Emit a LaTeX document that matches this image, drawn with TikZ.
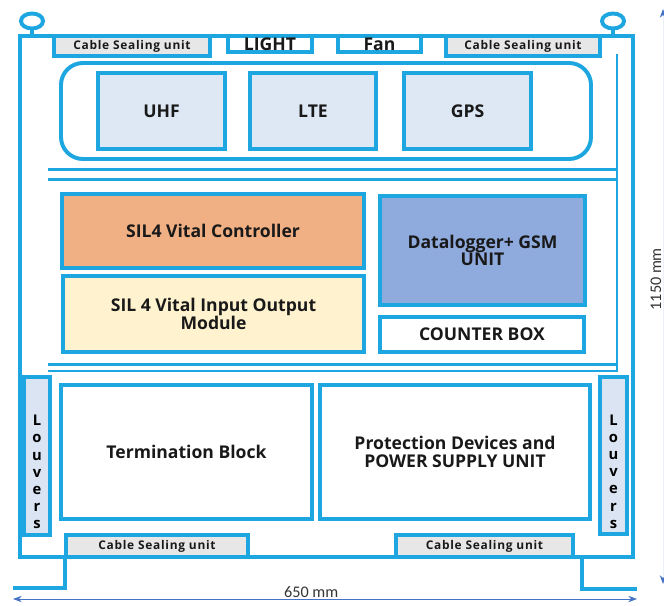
\documentclass[tikz,border=0pt]{standalone}
\usepackage{fontspec}
\setmainfont{Open Sans}
\newfontfamily\dimfont{Carlito}
\usepackage{xcolor}
\usepackage{tikz}
\usetikzlibrary{arrows.meta,positioning,calc}
\definecolor{cab}{RGB}{29,166,223}
\definecolor{rfbox}{RGB}{221,232,244}
\definecolor{ctrl}{RGB}{241,176,131}
\definecolor{iomod}{RGB}{255,242,206}
\definecolor{dlog}{RGB}{143,170,220}
\definecolor{seal}{RGB}{231,231,231}
\definecolor{louv}{RGB}{219,228,242}
\definecolor{dimc}{RGB}{68,114,196}
\tikzset{
  % cabinet
  frame/.style={draw=cab, line width=2.8pt},
  rail/.style={draw=cab, line width=2.1pt},
  wh/.style 2 args={minimum width=#1*0.025cm, minimum height=#2*0.025cm},
  unit/.style={draw=cab, line width=2.8pt, inner sep=0pt, align=center, text=black!90,
    font=\bfseries\fontsize{12.5}{12.5}\selectfont},
  sealbox/.style={unit, fill=seal, font=\bfseries\fontsize{8.5}{9}\selectfont\addfontfeature{LetterSpace=6}},
  tab/.style={unit, fill=white, font=\bfseries\fontsize{12.5}{12}\selectfont},
  panel/.style={draw=cab, line width=2.8pt, inner sep=0pt, rounded corners=15.6pt},
  louver/.style={unit, fill=louv},
  vtext/.style={align=center, inner sep=0pt, font=\bfseries\fontsize{10.5}{12.2}\selectfont},
  % dimensions
  dim/.style={draw=dimc, line width=0.6pt, {Stealth[length=2.2mm,width=1.6mm]}-{Stealth[length=2.2mm,width=1.6mm]}},
  dimlbl/.style={font=\dimfont\fontsize{11.5}{12}\selectfont, text=black!80, inner sep=1pt}
}
\begin{document}
\begin{tikzpicture}[x=0.025cm, y=-0.025cm]
    \useasboundingbox (0,0) rectangle (664,605);
    % frame, rings and legs
    \draw[frame] (20,36) rectangle (633,557);
    \draw[frame] (32,21) circle[x radius=11, y radius=7.5];
    \draw[frame] (613,21) circle[x radius=11, y radius=7.5];
    \draw[frame] (32,28) -- (32,36);
    \draw[frame] (613,28) -- (613,36);
    \draw[frame] (65,557) -- (65,588) -- (13,588);
    \draw[frame] (582,557) -- (582,589) -- (637,589);

    % top row
    \node[sealbox, wh={156}{20}] (sealTL) at (132,46) {Cable Sealing unit};
    \node[tab, wh={84}{16}] (light) at (270,44) {LIGHT};
    \node[tab, wh={83}{16}] (fan) at (379.5,44) {Fan};
    \node[sealbox, wh={154}{20}] (sealTR) at (523,46) {Cable Sealing unit};

    % radio bay
    \node[panel, wh={530}{96}] (rfbay) at (326,111) {};
    \node[unit, fill=rfbox, wh={127}{76}] (uhf) at (161.5,111) {UHF};
    \node[unit, fill=rfbox, wh={126}{76}] (lte) at (313,111) {LTE};
    \node[unit, fill=rfbox, wh={127}{76}] (gps) at (467.5,111) {GPS};

    % rails
    \draw[rail] (617,54) -- (617,372);
    \draw[rail] (48,169.5) -- (617,169.5);
    \draw[rail] (48,179.5) -- (617,179.5);
    \draw[rail] (48,364.5) -- (617,364.5);
    \draw[rail] (48,371) -- (617,371);

    % control bay
    \node[unit, fill=ctrl, wh={302}{74}] (ctrl) at (213,231) {SIL4 Vital Controller};
    \node[unit, fill=iomod, wh={301}{76}] (io) at (213.5,314) {SIL 4 Vital Input Output\\Module};
    \node[unit, fill=dlog, wh={205}{109}] (dlog) at (482.5,250.5) {Datalogger+ GSM\\UNIT};
    \node[unit, fill=white, wh={204}{35}] (counter) at (482,334.5) {COUNTER BOX};

    % power bay
    \node[louver, wh={26}{158}] (louvL) at (37,456) {};
    \node[louver, wh={27}{157}] (louvR) at (613.5,455.5) {};
    \node[vtext] at ($(louvL.center)+(0,16)$) {L\\o\\u\\v\\e\\r\\s};
    \node[vtext] at ($(louvR.center)+(0,16)$) {L\\o\\u\\v\\e\\r\\s};
    \node[unit, fill=white, wh={251}{134}] (term) at (186.5,452) {Termination Block};
    \node[unit, fill=white, wh={270}{134}] (psu) at (455,452) {Protection Devices and\\POWER SUPPLY UNIT};
    \node[sealbox, wh={182}{22}] (sealBL) at (157,546) {Cable Sealing unit};
    \node[sealbox, wh={177}{22}] (sealBR) at (484.5,546) {Cable Sealing unit};

    % dimensions
    \coordinate (wL) at (13,599);
    \coordinate (wR) at (637,599);
    \coordinate (hT) at (663,9);
    \coordinate (hB) at (663,584);
    \draw[dim] (wL) -- node[dimlbl, above, pos=0.478]{650 mm} (wR);
    \draw[dim, draw=dimc!10, {Stealth[length=2.2mm,width=1.6mm,color=dimc]}-{Stealth[length=2.2mm,width=1.6mm,color=dimc]}]
      (hT) -- node[dimlbl, above, rotate=90, pos=0.47]{1150 mm} (hB);
  \end{tikzpicture}
\end{document}
